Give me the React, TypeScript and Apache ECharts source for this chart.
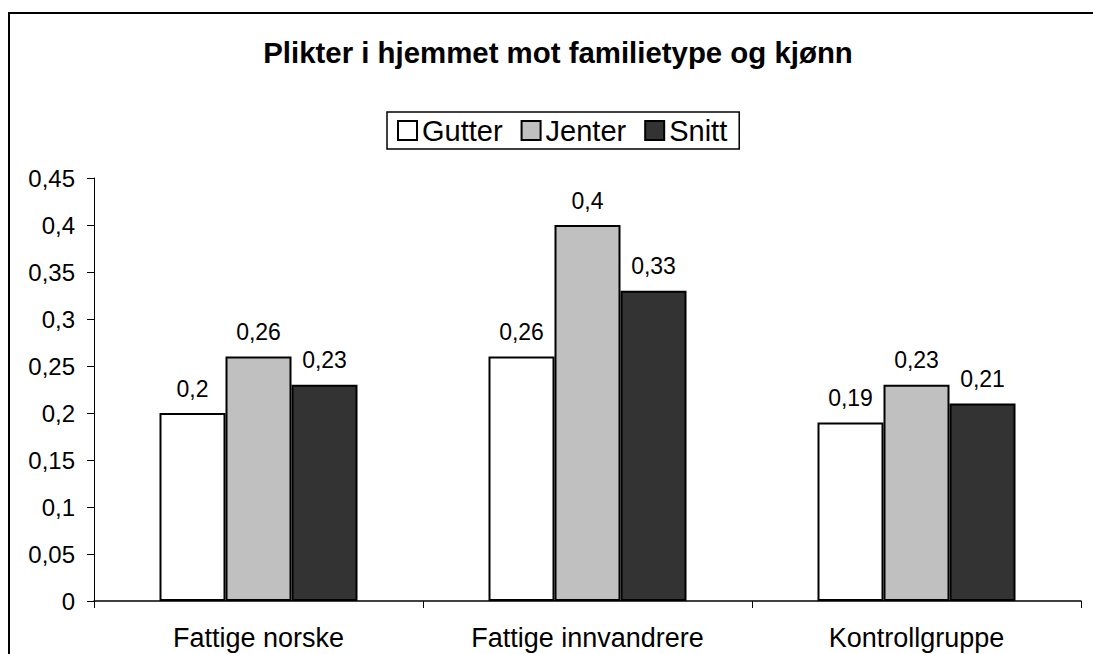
import React, { useEffect, useRef } from "react";
import * as echarts from "echarts";

const categories = ["Fattige norske", "Fattige innvandrere", "Kontrollgruppe"];
const gutter = [0.2, 0.26, 0.19];
const jenter = [0.26, 0.4, 0.23];
const snitt = [0.23, 0.33, 0.21];
const seriesNames = ["Gutter", "Jenter", "Snitt"];
const seriesColors = ["#ffffff", "#c0c0c0", "#333333"];
const titleText = "Plikter i hjemmet mot familietype og kjønn";

const fmt = (v: number) => String(Math.round(v * 100) / 100).replace(".", ",");
const FONT = "Liberation Sans, Arial, Helvetica, sans-serif";

export default function App() {
  const ref = useRef<HTMLDivElement>(null);
  useEffect(() => {
    if (!ref.current) return;
    const chart = echarts.init(ref.current, undefined, { renderer: "svg" });
    const data = [gutter, jenter, snitt];
    chart.setOption({
      animation: false,
      backgroundColor: "#ffffff",
      textStyle: { fontFamily: FONT, color: "#000" },
      graphic: [
        {
          type: "rect",
          shape: { x: 9, y: 13, width: 1200, height: 800 },
          style: { fill: "none", stroke: "#000", lineWidth: 2 },
          silent: true,
        },
        {
          type: "text",
          x: 558,
          y: 52,
          style: {
            text: titleText,
            font: `bold 29.4px ${FONT}`,
            fill: "#000",
            textAlign: "center",
            textVerticalAlign: "middle",
          },
        },
      ],
      legend: {
        left: 387,
        top: 112,
        orient: "horizontal",
        data: seriesNames,
        icon: "rect",
        itemWidth: 19,
        itemHeight: 19,
        itemGap: 18,
        padding: [4, 12, 4, 10],
        borderColor: "#000",
        borderWidth: 1.5,
        textStyle: { fontSize: 29, lineHeight: 29, color: "#000", fontFamily: FONT },
      },
      grid: { left: 94, right: 12, top: 178, bottom: 53, containLabel: false },
      xAxis: {
        type: "category",
        data: categories,
        axisLine: { lineStyle: { color: "#000", width: 1.5 } },
        axisTick: { show: true, length: 7, lineStyle: { color: "#000" } },
        axisLabel: { fontSize: 27, color: "#000", margin: 23, fontFamily: FONT },
      },
      yAxis: {
        type: "value",
        min: 0,
        max: 0.45,
        interval: 0.05,
        splitLine: { show: false },
        axisLine: { show: true, lineStyle: { color: "#000", width: 1 } },
        axisTick: { show: true, length: 7, lineStyle: { color: "#000" } },
        axisLabel: { fontSize: 24, color: "#000", margin: 19, fontFamily: FONT, formatter: (v: number) => fmt(v) },
      },
      series: seriesNames.map((name, i) => ({
        name,
        type: "bar",
        data: data[i],
        barWidth: 66,
        barGap: "0%",
        itemStyle: { color: seriesColors[i], borderColor: "#000", borderWidth: 2 },
        label: {
          show: true,
          position: "top",
          distance: 13,
          fontSize: 23,
          color: "#000",
          fontFamily: FONT,
          formatter: (p: any) => fmt(p.value),
        },
      })),
    });
    return () => chart.dispose();
  }, []);
  return (
    <div
      ref={ref}
      style={{ position: "absolute", left: 0, top: 0, width: 1093, height: 654 }}
    />
  );
}
